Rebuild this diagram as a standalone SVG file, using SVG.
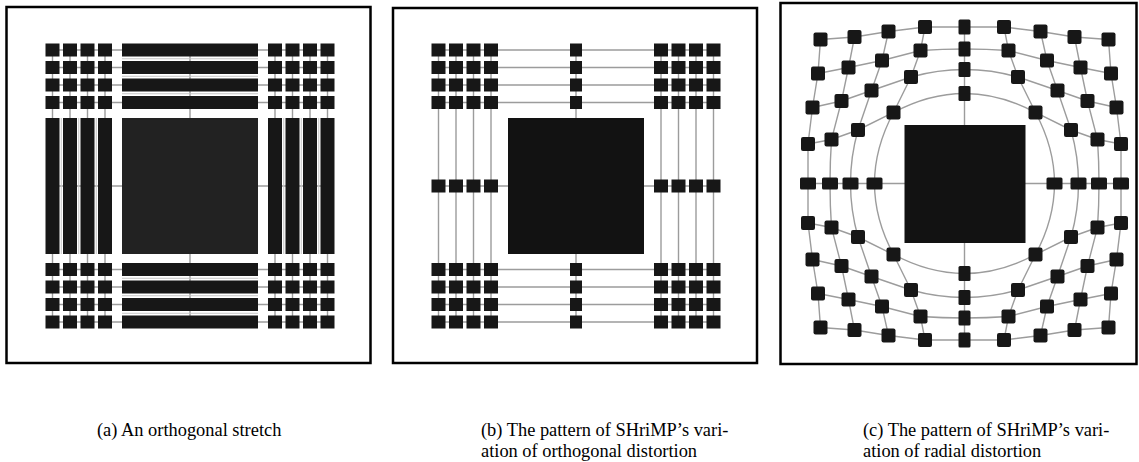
<svg xmlns="http://www.w3.org/2000/svg" xmlns:xlink="http://www.w3.org/1999/xlink" width="1139" height="462" viewBox="0 0 1139 462">
<style>
.frame{fill:none;stroke:#000;stroke-width:2.5}
.ln{fill:none;stroke:#9c9c9c;stroke-width:1.4}
.lnl{fill:none;stroke:#c4c4c4;stroke-width:1}
.nd{fill:#171717}
.big{fill:#222}
.bigb{fill:#121212}
.cap{font-family:"Liberation Serif","Times New Roman",serif;font-size:18.4px;fill:#000}
</style>
<defs>
<rect id="sq" class="nd" x="-7" y="-6.5" width="14" height="13"/>
<rect id="sqm" class="nd" x="-6" y="-6.5" width="12" height="13"/>
<rect id="cn" class="nd" x="-7" y="-7" width="14" height="14" rx="2"/>
<rect id="cv" class="nd" x="-6" y="-7.5" width="12" height="15" rx="1.5"/>
<rect id="ch" class="nd" x="-8" y="-6" width="16" height="12" rx="1.5"/>
</defs>
<rect width="1139" height="462" fill="#fff"/>
<g id="frames">
<rect class="frame" x="6.5" y="7" width="364" height="356"/>
<rect class="frame" x="393" y="8" width="364" height="355"/>
<rect class="frame" x="780.5" y="3" width="356" height="361"/>
</g>
<g id="connectors">
<g id="a-lines">
<path class="ln" d="M52.5,50H327.5M52.5,67.5H327.5M52.5,85H327.5M52.5,102.5H327.5M52.5,186H327.5M52.5,269.5H327.5M52.5,287H327.5M52.5,304.5H327.5M52.5,322H327.5"/>
<path class="ln" d="M52.5,50V322M70,50V322M87.5,50V322M105,50V322M190,50V322M275,50V322M292.5,50V322M310,50V322M327.5,50V322"/>
<path class="lnl" d="M122,58.75H258M122,76.25H258M122,93.75H258M122,278.25H258M122,295.75H258M122,313.25H258"/>
<path class="lnl" d="M61.25,118V254M78.75,118V254M96.25,118V254M283.75,118V254M301.25,118V254M318.75,118V254"/>
</g>
<g id="b-lines">
<path class="ln" d="M438.5,50H713.5M438.5,67.5H713.5M438.5,85H713.5M438.5,102.5H713.5M438.5,186H713.5M438.5,269.5H713.5M438.5,287H713.5M438.5,304.5H713.5M438.5,322H713.5"/>
<path class="ln" d="M438.5,50V322M456,50V322M473.5,50V322M491,50V322M576,50V322M661,50V322M678.5,50V322M696,50V322M713.5,50V322"/>
</g>
<g id="c-lines">
<path class="ln" d="M820.5,39.5L854.5,37L888.5,31.5L925,27L1004,27L1040.5,31.5L1074.5,37L1108.5,39.5"/>
<path class="ln" d="M818,73.5L848.5,67.5L882,60.5L920.5,50.5Q964.5,47.5 1008.5,50.5L1047,60.5L1080.5,67.5L1111,73.5"/>
<path class="ln" d="M812.5,107.5L841.5,101L871.5,90.5L911,77Q964.5,62 1018,77L1057.5,90.5L1087.5,101L1116.5,107.5"/>
<path class="ln" d="M808,144L831.5,139.5L858,130L893.5,112.5Q964.5,74.5 1035.5,112.5L1071,130L1097.5,139.5L1121,144"/>
<path class="ln" d="M808,183.5H1121"/>
<path class="ln" d="M808,223L831.5,227.5L858,237L893.5,254.5Q964.5,292.5 1035.5,254.5L1071,237L1097.5,227.5L1121,223"/>
<path class="ln" d="M812.5,259.5L841.5,266L871.5,276.5L911,290Q964.5,305 1018,290L1057.5,276.5L1087.5,266L1116.5,259.5"/>
<path class="ln" d="M818,293.5L848.5,299.5L882,306.5L920.5,316.5Q964.5,319.5 1008.5,316.5L1047,306.5L1080.5,299.5L1111,293.5"/>
<path class="ln" d="M820.5,327.5L854.5,330L888.5,335.5L925,340L1004,340L1040.5,335.5L1074.5,330L1108.5,327.5"/>
<path class="ln" d="M820.5,39.5L818,73.5L812.5,107.5L808,144L808,223L812.5,259.5L818,293.5L820.5,327.5"/>
<path class="ln" d="M854.5,37L848.5,67.5L841.5,101L831.5,139.5Q828.5,183.5 831.5,227.5L841.5,266L848.5,299.5L854.5,330"/>
<path class="ln" d="M888.5,31.5L882,60.5L871.5,90.5L858,130Q843,183.5 858,237L871.5,276.5L882,306.5L888.5,335.5"/>
<path class="ln" d="M925,27L920.5,50.5L911,77L893.5,112.5Q855.5,183.5 893.5,254.5L911,290L920.5,316.5L925,340"/>
<path class="ln" d="M964.5,27V340"/>
<path class="ln" d="M1004,27L1008.5,50.5L1018,77L1035.5,112.5Q1073.5,183.5 1035.5,254.5L1018,290L1008.5,316.5L1004,340"/>
<path class="ln" d="M1040.5,31.5L1047,60.5L1057.5,90.5L1071,130Q1086,183.5 1071,237L1057.5,276.5L1047,306.5L1040.5,335.5"/>
<path class="ln" d="M1074.5,37L1080.5,67.5L1087.5,101L1097.5,139.5Q1100.5,183.5 1097.5,227.5L1087.5,266L1080.5,299.5L1074.5,330"/>
<path class="ln" d="M1108.5,39.5L1111,73.5L1116.5,107.5L1121,144L1121,223L1116.5,259.5L1111,293.5L1108.5,327.5"/>
</g>
</g>
<g id="panel-a">
<g id="a-r1c1"><use href="#sq" x="52.5" y="50"/></g><g id="a-r1c2"><use href="#sq" x="70" y="50"/></g><g id="a-r1c3"><use href="#sq" x="87.5" y="50"/></g><g id="a-r1c4"><use href="#sq" x="105" y="50"/></g>
<g id="a-r1c5"><rect class="nd" x="122" y="43.5" width="136" height="13"/></g>
<g id="a-r1c6"><use href="#sq" x="275" y="50"/></g><g id="a-r1c7"><use href="#sq" x="292.5" y="50"/></g><g id="a-r1c8"><use href="#sq" x="310" y="50"/></g><g id="a-r1c9"><use href="#sq" x="327.5" y="50"/></g>
<g id="a-r2c1"><use href="#sq" x="52.5" y="67.5"/></g><g id="a-r2c2"><use href="#sq" x="70" y="67.5"/></g><g id="a-r2c3"><use href="#sq" x="87.5" y="67.5"/></g><g id="a-r2c4"><use href="#sq" x="105" y="67.5"/></g>
<g id="a-r2c5"><rect class="nd" x="122" y="61" width="136" height="13"/></g>
<g id="a-r2c6"><use href="#sq" x="275" y="67.5"/></g><g id="a-r2c7"><use href="#sq" x="292.5" y="67.5"/></g><g id="a-r2c8"><use href="#sq" x="310" y="67.5"/></g><g id="a-r2c9"><use href="#sq" x="327.5" y="67.5"/></g>
<g id="a-r3c1"><use href="#sq" x="52.5" y="85"/></g><g id="a-r3c2"><use href="#sq" x="70" y="85"/></g><g id="a-r3c3"><use href="#sq" x="87.5" y="85"/></g><g id="a-r3c4"><use href="#sq" x="105" y="85"/></g>
<g id="a-r3c5"><rect class="nd" x="122" y="78.5" width="136" height="13"/></g>
<g id="a-r3c6"><use href="#sq" x="275" y="85"/></g><g id="a-r3c7"><use href="#sq" x="292.5" y="85"/></g><g id="a-r3c8"><use href="#sq" x="310" y="85"/></g><g id="a-r3c9"><use href="#sq" x="327.5" y="85"/></g>
<g id="a-r4c1"><use href="#sq" x="52.5" y="102.5"/></g><g id="a-r4c2"><use href="#sq" x="70" y="102.5"/></g><g id="a-r4c3"><use href="#sq" x="87.5" y="102.5"/></g><g id="a-r4c4"><use href="#sq" x="105" y="102.5"/></g>
<g id="a-r4c5"><rect class="nd" x="122" y="96" width="136" height="13"/></g>
<g id="a-r4c6"><use href="#sq" x="275" y="102.5"/></g><g id="a-r4c7"><use href="#sq" x="292.5" y="102.5"/></g><g id="a-r4c8"><use href="#sq" x="310" y="102.5"/></g><g id="a-r4c9"><use href="#sq" x="327.5" y="102.5"/></g>
<g id="a-r5c1"><rect class="nd" x="45.5" y="118" width="14" height="136"/></g><g id="a-r5c2"><rect class="nd" x="63" y="118" width="14" height="136"/></g><g id="a-r5c3"><rect class="nd" x="80.5" y="118" width="14" height="136"/></g><g id="a-r5c4"><rect class="nd" x="98" y="118" width="14" height="136"/></g>
<g id="a-r5c5"><rect class="big" x="122" y="118" width="136" height="136"/></g>
<g id="a-r5c6"><rect class="nd" x="268" y="118" width="14" height="136"/></g><g id="a-r5c7"><rect class="nd" x="285.5" y="118" width="14" height="136"/></g><g id="a-r5c8"><rect class="nd" x="303" y="118" width="14" height="136"/></g><g id="a-r5c9"><rect class="nd" x="320.5" y="118" width="14" height="136"/></g>
<g id="a-r6c1"><use href="#sq" x="52.5" y="269.5"/></g><g id="a-r6c2"><use href="#sq" x="70" y="269.5"/></g><g id="a-r6c3"><use href="#sq" x="87.5" y="269.5"/></g><g id="a-r6c4"><use href="#sq" x="105" y="269.5"/></g>
<g id="a-r6c5"><rect class="nd" x="122" y="263" width="136" height="13"/></g>
<g id="a-r6c6"><use href="#sq" x="275" y="269.5"/></g><g id="a-r6c7"><use href="#sq" x="292.5" y="269.5"/></g><g id="a-r6c8"><use href="#sq" x="310" y="269.5"/></g><g id="a-r6c9"><use href="#sq" x="327.5" y="269.5"/></g>
<g id="a-r7c1"><use href="#sq" x="52.5" y="287"/></g><g id="a-r7c2"><use href="#sq" x="70" y="287"/></g><g id="a-r7c3"><use href="#sq" x="87.5" y="287"/></g><g id="a-r7c4"><use href="#sq" x="105" y="287"/></g>
<g id="a-r7c5"><rect class="nd" x="122" y="280.5" width="136" height="13"/></g>
<g id="a-r7c6"><use href="#sq" x="275" y="287"/></g><g id="a-r7c7"><use href="#sq" x="292.5" y="287"/></g><g id="a-r7c8"><use href="#sq" x="310" y="287"/></g><g id="a-r7c9"><use href="#sq" x="327.5" y="287"/></g>
<g id="a-r8c1"><use href="#sq" x="52.5" y="304.5"/></g><g id="a-r8c2"><use href="#sq" x="70" y="304.5"/></g><g id="a-r8c3"><use href="#sq" x="87.5" y="304.5"/></g><g id="a-r8c4"><use href="#sq" x="105" y="304.5"/></g>
<g id="a-r8c5"><rect class="nd" x="122" y="298" width="136" height="13"/></g>
<g id="a-r8c6"><use href="#sq" x="275" y="304.5"/></g><g id="a-r8c7"><use href="#sq" x="292.5" y="304.5"/></g><g id="a-r8c8"><use href="#sq" x="310" y="304.5"/></g><g id="a-r8c9"><use href="#sq" x="327.5" y="304.5"/></g>
<g id="a-r9c1"><use href="#sq" x="52.5" y="322"/></g><g id="a-r9c2"><use href="#sq" x="70" y="322"/></g><g id="a-r9c3"><use href="#sq" x="87.5" y="322"/></g><g id="a-r9c4"><use href="#sq" x="105" y="322"/></g>
<g id="a-r9c5"><rect class="nd" x="122" y="315.5" width="136" height="13"/></g>
<g id="a-r9c6"><use href="#sq" x="275" y="322"/></g><g id="a-r9c7"><use href="#sq" x="292.5" y="322"/></g><g id="a-r9c8"><use href="#sq" x="310" y="322"/></g><g id="a-r9c9"><use href="#sq" x="327.5" y="322"/></g>
</g>
<g id="panel-b">
<g id="b-r1c1"><use href="#sq" x="438.5" y="50"/></g><g id="b-r1c2"><use href="#sq" x="456" y="50"/></g><g id="b-r1c3"><use href="#sq" x="473.5" y="50"/></g><g id="b-r1c4"><use href="#sq" x="491" y="50"/></g><g id="b-r1c5"><use href="#sqm" x="576" y="50"/></g><g id="b-r1c6"><use href="#sq" x="661" y="50"/></g><g id="b-r1c7"><use href="#sq" x="678.5" y="50"/></g><g id="b-r1c8"><use href="#sq" x="696" y="50"/></g><g id="b-r1c9"><use href="#sq" x="713.5" y="50"/></g>
<g id="b-r2c1"><use href="#sq" x="438.5" y="67.5"/></g><g id="b-r2c2"><use href="#sq" x="456" y="67.5"/></g><g id="b-r2c3"><use href="#sq" x="473.5" y="67.5"/></g><g id="b-r2c4"><use href="#sq" x="491" y="67.5"/></g><g id="b-r2c5"><use href="#sqm" x="576" y="67.5"/></g><g id="b-r2c6"><use href="#sq" x="661" y="67.5"/></g><g id="b-r2c7"><use href="#sq" x="678.5" y="67.5"/></g><g id="b-r2c8"><use href="#sq" x="696" y="67.5"/></g><g id="b-r2c9"><use href="#sq" x="713.5" y="67.5"/></g>
<g id="b-r3c1"><use href="#sq" x="438.5" y="85"/></g><g id="b-r3c2"><use href="#sq" x="456" y="85"/></g><g id="b-r3c3"><use href="#sq" x="473.5" y="85"/></g><g id="b-r3c4"><use href="#sq" x="491" y="85"/></g><g id="b-r3c5"><use href="#sqm" x="576" y="85"/></g><g id="b-r3c6"><use href="#sq" x="661" y="85"/></g><g id="b-r3c7"><use href="#sq" x="678.5" y="85"/></g><g id="b-r3c8"><use href="#sq" x="696" y="85"/></g><g id="b-r3c9"><use href="#sq" x="713.5" y="85"/></g>
<g id="b-r4c1"><use href="#sq" x="438.5" y="102.5"/></g><g id="b-r4c2"><use href="#sq" x="456" y="102.5"/></g><g id="b-r4c3"><use href="#sq" x="473.5" y="102.5"/></g><g id="b-r4c4"><use href="#sq" x="491" y="102.5"/></g><g id="b-r4c5"><use href="#sqm" x="576" y="102.5"/></g><g id="b-r4c6"><use href="#sq" x="661" y="102.5"/></g><g id="b-r4c7"><use href="#sq" x="678.5" y="102.5"/></g><g id="b-r4c8"><use href="#sq" x="696" y="102.5"/></g><g id="b-r4c9"><use href="#sq" x="713.5" y="102.5"/></g>
<g id="b-r5c1"><use href="#sq" x="438.5" y="186"/></g><g id="b-r5c2"><use href="#sq" x="456" y="186"/></g><g id="b-r5c3"><use href="#sq" x="473.5" y="186"/></g><g id="b-r5c4"><use href="#sq" x="491" y="186"/></g>
<g id="b-r5c5"><rect class="bigb" x="508" y="118" width="136" height="136"/></g>
<g id="b-r5c6"><use href="#sq" x="661" y="186"/></g><g id="b-r5c7"><use href="#sq" x="678.5" y="186"/></g><g id="b-r5c8"><use href="#sq" x="696" y="186"/></g><g id="b-r5c9"><use href="#sq" x="713.5" y="186"/></g>
<g id="b-r6c1"><use href="#sq" x="438.5" y="269.5"/></g><g id="b-r6c2"><use href="#sq" x="456" y="269.5"/></g><g id="b-r6c3"><use href="#sq" x="473.5" y="269.5"/></g><g id="b-r6c4"><use href="#sq" x="491" y="269.5"/></g><g id="b-r6c5"><use href="#sqm" x="576" y="269.5"/></g><g id="b-r6c6"><use href="#sq" x="661" y="269.5"/></g><g id="b-r6c7"><use href="#sq" x="678.5" y="269.5"/></g><g id="b-r6c8"><use href="#sq" x="696" y="269.5"/></g><g id="b-r6c9"><use href="#sq" x="713.5" y="269.5"/></g>
<g id="b-r7c1"><use href="#sq" x="438.5" y="287"/></g><g id="b-r7c2"><use href="#sq" x="456" y="287"/></g><g id="b-r7c3"><use href="#sq" x="473.5" y="287"/></g><g id="b-r7c4"><use href="#sq" x="491" y="287"/></g><g id="b-r7c5"><use href="#sqm" x="576" y="287"/></g><g id="b-r7c6"><use href="#sq" x="661" y="287"/></g><g id="b-r7c7"><use href="#sq" x="678.5" y="287"/></g><g id="b-r7c8"><use href="#sq" x="696" y="287"/></g><g id="b-r7c9"><use href="#sq" x="713.5" y="287"/></g>
<g id="b-r8c1"><use href="#sq" x="438.5" y="304.5"/></g><g id="b-r8c2"><use href="#sq" x="456" y="304.5"/></g><g id="b-r8c3"><use href="#sq" x="473.5" y="304.5"/></g><g id="b-r8c4"><use href="#sq" x="491" y="304.5"/></g><g id="b-r8c5"><use href="#sqm" x="576" y="304.5"/></g><g id="b-r8c6"><use href="#sq" x="661" y="304.5"/></g><g id="b-r8c7"><use href="#sq" x="678.5" y="304.5"/></g><g id="b-r8c8"><use href="#sq" x="696" y="304.5"/></g><g id="b-r8c9"><use href="#sq" x="713.5" y="304.5"/></g>
<g id="b-r9c1"><use href="#sq" x="438.5" y="322"/></g><g id="b-r9c2"><use href="#sq" x="456" y="322"/></g><g id="b-r9c3"><use href="#sq" x="473.5" y="322"/></g><g id="b-r9c4"><use href="#sq" x="491" y="322"/></g><g id="b-r9c5"><use href="#sqm" x="576" y="322"/></g><g id="b-r9c6"><use href="#sq" x="661" y="322"/></g><g id="b-r9c7"><use href="#sq" x="678.5" y="322"/></g><g id="b-r9c8"><use href="#sq" x="696" y="322"/></g><g id="b-r9c9"><use href="#sq" x="713.5" y="322"/></g>
</g>
<g id="panel-c">
<g id="c-r1c1"><use href="#cn" x="820.5" y="39.5"/></g><g id="c-r1c2"><use href="#cn" x="854.5" y="37"/></g><g id="c-r1c3"><use href="#cn" x="888.5" y="31.5"/></g><g id="c-r1c4"><use href="#cn" x="925" y="27"/></g><g id="c-r1c5"><use href="#cv" x="964.5" y="27"/></g><g id="c-r1c6"><use href="#cn" x="1004" y="27"/></g><g id="c-r1c7"><use href="#cn" x="1040.5" y="31.5"/></g><g id="c-r1c8"><use href="#cn" x="1074.5" y="37"/></g><g id="c-r1c9"><use href="#cn" x="1108.5" y="39.5"/></g>
<g id="c-r2c1"><use href="#cn" x="818" y="73.5"/></g><g id="c-r2c2"><use href="#cn" x="848.5" y="67.5"/></g><g id="c-r2c3"><use href="#cn" x="882" y="60.5"/></g><g id="c-r2c4"><use href="#cn" x="920.5" y="50.5"/></g><g id="c-r2c5"><use href="#cv" x="964.5" y="49"/></g><g id="c-r2c6"><use href="#cn" x="1008.5" y="50.5"/></g><g id="c-r2c7"><use href="#cn" x="1047" y="60.5"/></g><g id="c-r2c8"><use href="#cn" x="1080.5" y="67.5"/></g><g id="c-r2c9"><use href="#cn" x="1111" y="73.5"/></g>
<g id="c-r3c1"><use href="#cn" x="812.5" y="107.5"/></g><g id="c-r3c2"><use href="#cn" x="841.5" y="101"/></g><g id="c-r3c3"><use href="#cn" x="871.5" y="90.5"/></g><g id="c-r3c4"><use href="#cn" x="911" y="77"/></g><g id="c-r3c5"><use href="#cv" x="964.5" y="69.5"/></g><g id="c-r3c6"><use href="#cn" x="1018" y="77"/></g><g id="c-r3c7"><use href="#cn" x="1057.5" y="90.5"/></g><g id="c-r3c8"><use href="#cn" x="1087.5" y="101"/></g><g id="c-r3c9"><use href="#cn" x="1116.5" y="107.5"/></g>
<g id="c-r4c1"><use href="#cn" x="808" y="144"/></g><g id="c-r4c2"><use href="#cn" x="831.5" y="139.5"/></g><g id="c-r4c3"><use href="#cn" x="858" y="130"/></g><g id="c-r4c4"><use href="#cn" x="893.5" y="112.5"/></g><g id="c-r4c5"><use href="#cv" x="964.5" y="93.5"/></g><g id="c-r4c6"><use href="#cn" x="1035.5" y="112.5"/></g><g id="c-r4c7"><use href="#cn" x="1071" y="130"/></g><g id="c-r4c8"><use href="#cn" x="1097.5" y="139.5"/></g><g id="c-r4c9"><use href="#cn" x="1121" y="144"/></g>
<g id="c-r5c1"><use href="#ch" x="808" y="183.5"/></g><g id="c-r5c2"><use href="#ch" x="830" y="183.5"/></g><g id="c-r5c3"><use href="#ch" x="850.5" y="183.5"/></g><g id="c-r5c4"><use href="#ch" x="874.5" y="183.5"/></g>
<g id="c-r5c5"><rect class="bigb" x="904.5" y="125" width="121" height="118"/></g>
<g id="c-r5c6"><use href="#ch" x="1054.5" y="183.5"/></g><g id="c-r5c7"><use href="#ch" x="1078.5" y="183.5"/></g><g id="c-r5c8"><use href="#ch" x="1099" y="183.5"/></g><g id="c-r5c9"><use href="#ch" x="1121" y="183.5"/></g>
<g id="c-r6c1"><use href="#cn" x="808" y="223"/></g><g id="c-r6c2"><use href="#cn" x="831.5" y="227.5"/></g><g id="c-r6c3"><use href="#cn" x="858" y="237"/></g><g id="c-r6c4"><use href="#cn" x="893.5" y="254.5"/></g><g id="c-r6c5"><use href="#cv" x="964.5" y="273.5"/></g><g id="c-r6c6"><use href="#cn" x="1035.5" y="254.5"/></g><g id="c-r6c7"><use href="#cn" x="1071" y="237"/></g><g id="c-r6c8"><use href="#cn" x="1097.5" y="227.5"/></g><g id="c-r6c9"><use href="#cn" x="1121" y="223"/></g>
<g id="c-r7c1"><use href="#cn" x="812.5" y="259.5"/></g><g id="c-r7c2"><use href="#cn" x="841.5" y="266"/></g><g id="c-r7c3"><use href="#cn" x="871.5" y="276.5"/></g><g id="c-r7c4"><use href="#cn" x="911" y="290"/></g><g id="c-r7c5"><use href="#cv" x="964.5" y="297.5"/></g><g id="c-r7c6"><use href="#cn" x="1018" y="290"/></g><g id="c-r7c7"><use href="#cn" x="1057.5" y="276.5"/></g><g id="c-r7c8"><use href="#cn" x="1087.5" y="266"/></g><g id="c-r7c9"><use href="#cn" x="1116.5" y="259.5"/></g>
<g id="c-r8c1"><use href="#cn" x="818" y="293.5"/></g><g id="c-r8c2"><use href="#cn" x="848.5" y="299.5"/></g><g id="c-r8c3"><use href="#cn" x="882" y="306.5"/></g><g id="c-r8c4"><use href="#cn" x="920.5" y="316.5"/></g><g id="c-r8c5"><use href="#cv" x="964.5" y="318"/></g><g id="c-r8c6"><use href="#cn" x="1008.5" y="316.5"/></g><g id="c-r8c7"><use href="#cn" x="1047" y="306.5"/></g><g id="c-r8c8"><use href="#cn" x="1080.5" y="299.5"/></g><g id="c-r8c9"><use href="#cn" x="1111" y="293.5"/></g>
<g id="c-r9c1"><use href="#cn" x="820.5" y="327.5"/></g><g id="c-r9c2"><use href="#cn" x="854.5" y="330"/></g><g id="c-r9c3"><use href="#cn" x="888.5" y="335.5"/></g><g id="c-r9c4"><use href="#cn" x="925" y="340"/></g><g id="c-r9c5"><use href="#cv" x="964.5" y="340"/></g><g id="c-r9c6"><use href="#cn" x="1004" y="340"/></g><g id="c-r9c7"><use href="#cn" x="1040.5" y="335.5"/></g><g id="c-r9c8"><use href="#cn" x="1074.5" y="330"/></g><g id="c-r9c9"><use href="#cn" x="1108.5" y="327.5"/></g>
</g>
<g id="captions">
<text class="cap" x="97" y="436">(a) An orthogonal stretch</text>
<text class="cap" x="481" y="436">(b) The pattern of SHriMP’s vari-</text>
<text class="cap" x="481" y="457">ation of orthogonal distortion</text>
<text class="cap" x="863" y="436">(c) The pattern of SHriMP’s vari-</text>
<text class="cap" x="863" y="457">ation of radial distortion</text>
</g>
</svg>
